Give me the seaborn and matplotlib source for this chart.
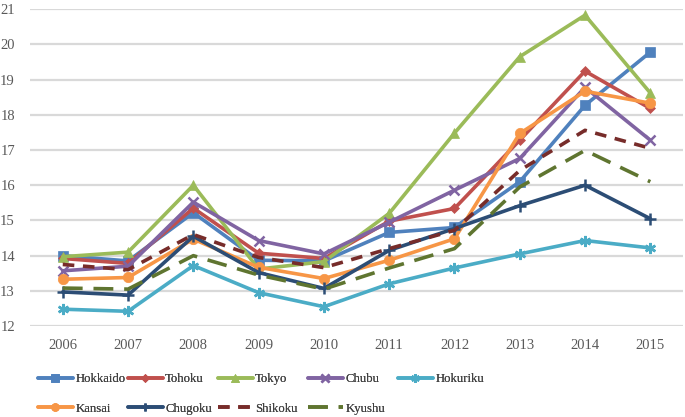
import numpy as np
import pandas as pd
import matplotlib
matplotlib.use("Agg")
import matplotlib.pyplot as plt
import seaborn as sns

years = [2006, 2007, 2008, 2009, 2010, 2011, 2012, 2013, 2014, 2015]
hokkaido = [14.00, 13.85, 15.22, 13.87, 13.85, 14.66, 14.80, 16.10, 18.27, 19.78]
tohoku   = [13.92, 13.78, 15.35, 14.07, 13.92, 14.98, 15.34, 17.28, 19.24, 18.18]
tokyo    = [13.97, 14.10, 16.00, 13.62, 13.83, 15.20, 17.48, 19.65, 20.83, 18.62]
chubu    = [13.57, 13.70, 15.52, 14.43, 14.05, 14.95, 15.86, 16.76, 18.78, 17.28]
hokuriku = [12.48, 12.42, 13.72, 12.95, 12.55, 13.20, 13.65, 14.05, 14.43, 14.22]
kansai   = [13.33, 13.38, 14.47, 13.67, 13.35, 13.87, 14.48, 17.47, 18.67, 18.33]
chugoku  = [12.97, 12.88, 14.55, 13.52, 13.07, 14.15, 14.77, 15.42, 16.00, 15.05]
shikoku  = [13.75, 13.60, 14.60, 13.95, 13.66, 14.20, 14.72, 16.42, 17.56, 17.05]
kyushu   = [13.08, 13.05, 14.00, 13.45, 13.05, 13.65, 14.20, 15.95, 16.99, 16.10]

regions = ["Hokkaido", "Tohoku", "Tokyo", "Chubu", "Hokuriku",
           "Kansai", "Chugoku", "Shikoku", "Kyushu"]
series = [hokkaido, tohoku, tokyo, chubu, hokuriku, kansai, chugoku, shikoku, kyushu]

colors = {"Hokkaido": "#4F81BD", "Tohoku": "#C0504D", "Tokyo": "#9BBB59",
          "Chubu": "#8064A2", "Hokuriku": "#4BACC6", "Kansai": "#F79646",
          "Chugoku": "#2C4D75", "Shikoku": "#772C2A", "Kyushu": "#5F7530"}
markers = {"Hokkaido": "s", "Tohoku": "D", "Tokyo": "^", "Chubu": "x",
           "Hokuriku": (6, 2, 0), "Kansai": "o", "Chugoku": "+",
           "Shikoku": "", "Kyushu": ""}
msizes = {"Hokkaido": 7, "Tohoku": 5.5, "Tokyo": 7, "Chubu": 7,
          "Hokuriku": 8, "Kansai": 7.5, "Chugoku": 8, "Shikoku": 0, "Kyushu": 0}
dashes = {"Shikoku": (3.2, 2.4), "Kyushu": (5.5, 3.0)}

rows = []
for r, vals in zip(regions, series):
    for i, (y, v) in enumerate(zip(years, vals)):
        rows.append({"pos": i, "year": y, "value": v, "region": r})
df = pd.DataFrame(rows)

sns.set_theme(style="white")
plt.rcParams["font.family"] = ["Liberation Serif", "DejaVu Serif"]

fig = plt.figure(figsize=(6.85, 4.17), dpi=100)
ax = fig.add_axes([0.044, 0.218, 0.953, 0.760])

handles = {}
for r in regions:
    sub = df[df.region == r]
    sns.lineplot(data=sub, x="pos", y="value", ax=ax, color=colors[r],
                 linewidth=2.6, marker=markers[r] if markers[r] != "" else None,
                 markersize=msizes[r],
                 markeredgewidth=1.8 if r in ("Chubu", "Hokuriku", "Chugoku") else 0.5,
                 markeredgecolor=colors[r], label=r, legend=False, zorder=3)
    line = ax.get_lines()[-1]
    if r in dashes:
        line.set_dashes(dashes[r])
    handles[r] = line

ax.set_xlim(-0.5, 9.5)
ax.set_ylim(12, 21)
ax.set_yticks(range(12, 22))
ax.set_xticks(range(len(years)))
ax.set_xticklabels([str(y) for y in years])
ax.set_xlabel("")
ax.set_ylabel("")
ax.yaxis.grid(True, color="#D9D9D9", linewidth=1.6, zorder=0)
ax.xaxis.grid(False)
for s in ax.spines.values():
    s.set_visible(False)
ax.tick_params(axis="both", length=0, labelsize=10.5, colors="#595959")
ax.tick_params(axis="y", pad=11)
ax.tick_params(axis="x", pad=9)

# legend laid out as a grid of columns, 90 px apart, rows filled left to right
columns = [["Hokkaido", "Kansai"], ["Tohoku", "Chugoku"], ["Tokyo", "Shikoku"],
           ["Chubu", "Kyushu"], ["Hokuriku"]]
W, H = 685.0, 417.0
for ci, col in enumerate(columns):
    x0 = (38 + 90 * ci) / W
    leg = fig.legend([handles[r] for r in col], col, ncol=1, frameon=False,
                     loc="upper left", bbox_to_anchor=(x0, 1 - 373 / H),
                     fontsize=9.2, handlelength=2.7, handletextpad=0.22,
                     labelspacing=1.4, borderaxespad=0, borderpad=0,
                     markerscale=0.75)
    for t in leg.get_texts():
        t.set_color("#404040")
    fig.add_artist(leg)

fig.savefig("out.png", dpi=100)
